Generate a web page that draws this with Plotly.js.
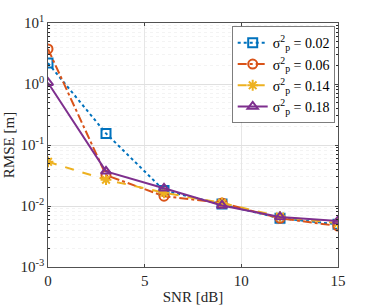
<!DOCTYPE html>
<html><head><meta charset="utf-8">
<script src="https://cdn.plot.ly/plotly-3.0.1.min.js"></script>
<style>html,body{margin:0;padding:0;background:#fff}#c{width:374px;height:305px}</style>
</head><body><div id="c"></div>
<script>
const snr = [0, 3, 6, 9, 12, 15];
const labels = ['σ<sup>2</sup><sub>p</sub> = 0.02','σ<sup>2</sup><sub>p</sub> = 0.06','σ<sup>2</sup><sub>p</sub> = 0.14','σ<sup>2</sup><sub>p</sub> = 0.18'];
const rmse002 = [2.2, 0.155, 0.018, 0.0108, 0.0063, 0.0050];
const rmse006 = [3.75, 0.032, 0.0145, 0.0112, 0.0063, 0.0047];
const rmse014 = [0.053, 0.027, 0.0165, 0.0112, 0.0067, 0.0052];
const rmse018 = [1.05, 0.037, 0.0195, 0.0102, 0.0066, 0.0057];
const yTickVals = [0.001, 0.01, 0.1, 1, 10];
const yTickText = ['10<sup>-3</sup>','10<sup>-2</sup>','10<sup>-1</sup>','10<sup>0</sup>','10<sup>1</sup>'];
const xTickVals = [0, 5, 10, 15];

const minorVals = [];
for (let k = 0; k < yTickVals.length - 1; k++) for (let m = 2; m <= 9; m++) minorVals.push(yTickVals[k] * m);

const colors = ['#0072BD','#D95319','#EDB120','#7E2F8E'];
const dashes = ['dot','dashdot','dash','solid'];
const symbols = ['square-open','circle-open','asterisk-open','triangle-up-open'];
const series = [rmse002, rmse006, rmse014, rmse018];
const traces = series.map((y,i)=>({
  x: snr, y: y, name: labels[i], type:'scatter', mode:'lines+markers',
  line:{color:colors[i], dash:dashes[i], width:2},
  marker:{symbol:symbols[i], size:9, color:colors[i], line:{color:colors[i], width:2}}
}));
const fam = 'Liberation Serif';
const layout = {
  width:374, height:305,
  margin:{l:48, r:36, t:23, b:38},
  paper_bgcolor:'#fff', plot_bgcolor:'#fff',
  font: {family:fam, size:14, color:'#262626'},
  showlegend:true,
  legend:{x:0.99, y:0.985, xanchor:'right', yanchor:'top', bgcolor:'#fff', bordercolor:'#262626', borderwidth:0.6, font:{family:fam,size:14,color:'#000'}, tracegroupgap:0, itemwidth:30},
  xaxis:{range:[0,15], tickvals:xTickVals, ticks:'inside', ticklen:3, showline:true, mirror:'ticks', linecolor:'#262626', linewidth:0.8, showgrid:true, gridcolor:'#e6e6e6', zeroline:false,
    tickfont:{family:fam,size:15,color:'#262626'},
    title:{text:'SNR [dB]', font:{family:fam,size:15,color:'#262626'}, standoff:4}},
  yaxis:{type:'log', range:[-3,1], tickvals:yTickVals, ticktext:yTickText, ticks:'inside', ticklen:3, showline:true, mirror:'ticks', linecolor:'#262626', linewidth:0.8, showgrid:true, gridcolor:'#e0e0e0', zeroline:false,
    tickfont:{family:fam,size:15,color:'#262626'},
    minor:{tickvals:minorVals, showgrid:true, gridcolor:'#f3f3f3', griddash:'dot', ticks:'inside', ticklen:2, tickcolor:'#262626'},
    title:{text:'RMSE [m]', font:{family:fam,size:15,color:'#262626'}, standoff:2}}
};
Plotly.newPlot('c', traces, layout, {displayModeBar:false, staticPlot:true});
</script></body></html>
